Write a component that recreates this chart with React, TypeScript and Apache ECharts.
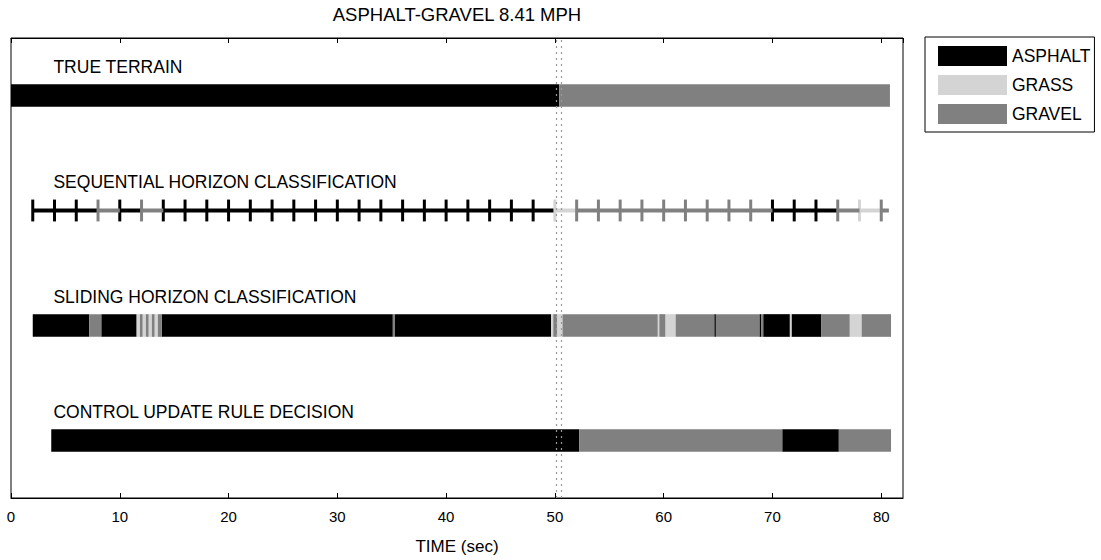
import React, { useEffect, useRef } from "react";
import * as echarts from "echarts";

const FONT = "'Liberation Sans', Arial, sans-serif";

const CLASS_NAMES = ["ASPHALT", "GRASS", "GRAVEL"];
const CLASS_COLORS = ["#000000", "#d4d4d4", "#808080"];

const TITLE = "ASPHALT-GRAVEL 8.41 MPH";
const X_NAME = "TIME (sec)";

const ROW_LABELS = [
  "TRUE TERRAIN",
  "SEQUENTIAL HORIZON CLASSIFICATION",
  "SLIDING HORIZON CLASSIFICATION",
  "CONTROL UPDATE RULE DECISION",
];
const ROW_Y = [3.5, 2.5, 1.5, 0.5];
const LABEL_X = 3.9;
const LABEL_OFFSET = 0.25;

// [start (sec), end (sec), class]
const TRUE_TERRAIN: [number, number, string][] = [
  [0, 50.4, "ASPHALT"],
  [50.4, 80.8, "GRAVEL"],
];

const SEQUENTIAL: [number, number, string][] = [
  [2, 4, "ASPHALT"], [4, 6, "ASPHALT"], [6, 8, "ASPHALT"], [8, 10, "GRAVEL"],
  [10, 12, "ASPHALT"], [12, 14, "GRAVEL"], [14, 16, "ASPHALT"], [16, 18, "ASPHALT"],
  [18, 20, "ASPHALT"], [20, 22, "ASPHALT"], [22, 24, "ASPHALT"], [24, 26, "ASPHALT"],
  [26, 28, "ASPHALT"], [28, 30, "ASPHALT"], [30, 32, "ASPHALT"], [32, 34, "ASPHALT"],
  [34, 36, "ASPHALT"], [36, 38, "ASPHALT"], [38, 40, "ASPHALT"], [40, 42, "ASPHALT"],
  [42, 44, "ASPHALT"], [44, 46, "ASPHALT"], [46, 48, "ASPHALT"], [48, 50, "ASPHALT"],
  [50, 52, "GRASS"], [52, 54, "GRAVEL"], [54, 56, "GRAVEL"], [56, 58, "GRAVEL"],
  [58, 60, "GRAVEL"], [60, 62, "GRAVEL"], [62, 64, "GRAVEL"], [64, 66, "GRAVEL"],
  [66, 68, "GRAVEL"], [68, 70, "GRAVEL"], [70, 72, "ASPHALT"], [72, 74, "ASPHALT"],
  [74, 76, "ASPHALT"], [76, 78, "GRAVEL"], [78, 80, "GRASS"], [80, 80.7, "GRAVEL"],
];

const SLIDING: [number, number, string][] = [
  [2, 7.2, "ASPHALT"], [7.2, 8.3, "GRAVEL"], [8.3, 11.55, "ASPHALT"],
  [11.55, 11.85, "GRASS"], [11.85, 12.1, "GRAVEL"], [12.1, 12.4, "GRASS"],
  [12.4, 12.65, "GRAVEL"], [12.65, 12.95, "GRASS"], [12.95, 13.2, "GRAVEL"],
  [13.2, 13.5, "GRASS"], [13.5, 13.85, "GRAVEL"], [13.85, 35.1, "ASPHALT"],
  [35.1, 35.3, "GRAVEL"], [35.3, 49.65, "ASPHALT"], [49.65, 49.85, "GRASS"],
  [49.85, 50.2, "GRAVEL"], [50.2, 50.7, "GRASS"], [50.7, 59.45, "GRAVEL"],
  [59.45, 59.6, "GRASS"], [59.6, 60.15, "GRAVEL"], [60.15, 61.1, "GRASS"],
  [61.1, 64.65, "GRAVEL"], [64.65, 64.8, "ASPHALT"], [64.8, 68.8, "GRAVEL"],
  [68.8, 68.95, "ASPHALT"], [68.95, 69.15, "GRAVEL"], [69.15, 71.6, "ASPHALT"],
  [71.6, 71.75, "GRASS"], [71.75, 74.5, "ASPHALT"], [74.5, 77.1, "GRAVEL"],
  [77.1, 78.2, "GRASS"], [78.2, 80.9, "GRAVEL"],
];

const CONTROL: [number, number, string][] = [
  [3.7, 52.25, "ASPHALT"],
  [52.25, 70.9, "GRAVEL"],
  [70.9, 76.1, "ASPHALT"],
  [76.1, 80.9, "GRAVEL"],
];

const TRANSITION_MARKS = [50.1, 50.6];

const X_MIN = 0;
const X_MAX = 82;
const X_INTERVAL = 10;

export default function App() {
  const ref = useRef<HTMLDivElement>(null);

  useEffect(() => {
    if (!ref.current) return;
    const chart = echarts.init(ref.current, undefined, { renderer: "svg" });

    const rows = [TRUE_TERRAIN, SEQUENTIAL, SLIDING, CONTROL];
    const kinds = [0, 1, 0, 0];

    const classSeries = CLASS_NAMES.map((name, ci) => {
      const data: number[][] = [];
      rows.forEach((segs, ri) => {
        segs.forEach(([s, e, c]) => {
          if (c === name) data.push([s, e, ROW_Y[ri], kinds[ri]]);
        });
      });
      const color = CLASS_COLORS[ci];
      return {
        type: "custom",
        name,
        itemStyle: { color },
        encode: { x: [0, 1], y: 2 },
        data,
        silent: true,
        renderItem: (params: any, api: any) => {
          const s = api.value(0);
          const e = api.value(1);
          const y = api.value(2);
          const kind = api.value(3);
          const p0 = api.coord([s, y]);
          const p1 = api.coord([e, y]);
          if (kind === 1) {
            const th = api.size([0, 0.19])[1] / 2;
            return {
              type: "group",
              children: [
                {
                  type: "line",
                  shape: { x1: p0[0], y1: p0[1], x2: p1[0], y2: p1[1] },
                  style: { stroke: color, lineWidth: 4 },
                },
                {
                  type: "line",
                  shape: { x1: p0[0], y1: p0[1] - th, x2: p0[0], y2: p0[1] + th },
                  style: { stroke: color, lineWidth: 3 },
                },
              ],
            };
          }
          const h = api.size([0, 0.197])[1];
          return {
            type: "rect",
            shape: { x: p0[0], y: p0[1] - h / 2, width: p1[0] - p0[0], height: h },
            style: { fill: color },
          };
        },
      };
    });

    const labelSeries = {
      type: "custom",
      name: "labels",
      silent: true,
      encode: { x: 0, y: 1 },
      data: ROW_Y.map((y) => [LABEL_X, y + LABEL_OFFSET]),
      renderItem: (params: any, api: any) => {
        const p = api.coord([api.value(0), api.value(1)]);
        return {
          type: "text",
          x: p[0],
          y: p[1],
          style: {
            text: ROW_LABELS[params.dataIndex],
            fill: "#000",
            fontSize: 17.5,
            fontFamily: FONT,
            align: "left",
            verticalAlign: "middle",
          },
        };
      },
    };

    const markSeries = {
      type: "line",
      name: "transition",
      data: [],
      silent: true,
      markLine: {
        silent: true,
        symbol: ["none", "none"],
        label: { show: false },
        lineStyle: { type: [2, 4], color: "#999", width: 1.2 },
        data: TRANSITION_MARKS.map((x) => ({ xAxis: x })),
      },
    };

    const axisCommon = {
      type: "value",
      min: X_MIN,
      max: X_MAX,
      interval: X_INTERVAL,
      splitLine: { show: false },
      axisLine: { show: true, lineStyle: { color: "#000", width: 1 } },
      axisTick: { show: true, inside: true, length: 5, lineStyle: { color: "#000" } },
    };

    chart.setOption({
      animation: false,
      backgroundColor: "#fff",
      textStyle: { fontFamily: FONT },
      grid: {
        left: 11,
        right: 198,
        top: 37,
        bottom: 55,
        show: true,
        borderColor: "#000",
        borderWidth: 1,
        backgroundColor: "transparent",
      },
      legend: {
        data: CLASS_NAMES,
        orient: "vertical",
        left: 925,
        top: 37,
        padding: [9, 4, 8, 13],
        itemWidth: 69,
        itemHeight: 20,
        itemGap: 9,
        icon: "rect",
        borderColor: "#000",
        borderWidth: 1,
        selectedMode: false,
        textStyle: { fontSize: 17.5, color: "#000", fontFamily: FONT },
      },
      xAxis: [
        {
          ...axisCommon,
          position: "bottom",
          axisLabel: { show: true, fontSize: 15, color: "#000", margin: 11, showMaxLabel: false, fontFamily: FONT },
          name: X_NAME,
          nameLocation: "middle",
          nameGap: 40,
          nameTextStyle: { fontSize: 17, color: "#000", fontFamily: FONT },
        },
        {
          ...axisCommon,
          position: "top",
          axisLabel: { show: false },
          name: TITLE,
          nameLocation: "middle",
          nameGap: 14,
          nameTextStyle: { fontSize: 18.5, color: "#000", fontFamily: FONT },
        },
      ],
      yAxis: { type: "value", min: 0, max: 4, show: false },
      series: [...classSeries, labelSeries, markSeries],
    });

    return () => chart.dispose();
  }, []);

  return (
    <div
      ref={ref}
      style={{ position: "fixed", left: 0, top: 0, width: 1101, height: 560 }}
    />
  );
}
